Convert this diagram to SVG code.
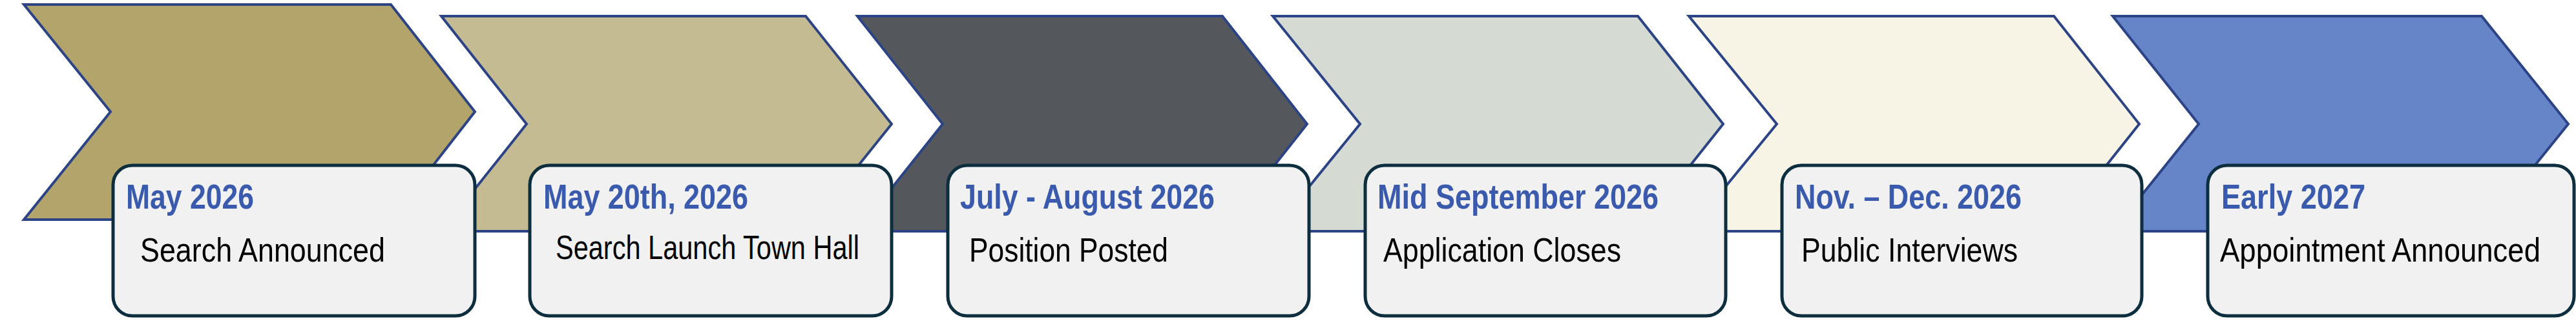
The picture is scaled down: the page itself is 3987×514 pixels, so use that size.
<svg xmlns="http://www.w3.org/2000/svg" width="3987" height="514" viewBox="0 0 3987 514">
<style>
.chev{stroke:#2c4485;stroke-width:4;stroke-linejoin:miter}
.chevin{fill:none;stroke:#7f9ad6;stroke-width:1.5}
.box{fill:#f1f1f1;stroke:#0d2e3e;stroke-width:5}
.t{font-family:"Liberation Sans",Arial,sans-serif;font-weight:bold;font-size:54px;fill:#3a5aad}
.b{font-family:"Liberation Sans",Arial,sans-serif;font-size:52px;fill:#000}
</style>
<rect width="3987" height="514" fill="#fff"/>
<g id="chevrons">
<polygon id="chev1" class="chev" fill="#b3a46c" points="37,7 605,7 735,173 605,340 37,340 171,173"/>
<polygon class="chev" fill="#c5bb93" points="683,25 1247,25 1380,192 1247,358 683,358 815,192"/>
<polygon class="chev" fill="#54585c" points="1327,25 1892,25 2023,192 1892,358 1327,358 1459,192"/>
<polygon class="chev" fill="#d5dbd3" points="1970,25 2535,25 2667,192 2535,358 1970,358 2105,192"/>
<polygon class="chev" fill="#f7f4e6" points="2614,25 3179,25 3311,192 3179,358 2614,358 2750,192"/>
<polygon class="chev" fill="#6685c9" points="3270,25 3841,25 3975,192 3841,358 3270,358 3403,192"/>
</g>
<g id="n1"><rect class="box" x="175" y="256" width="560" height="233" rx="30"/>
<text class="t" x="195" y="323" textLength="198" lengthAdjust="spacingAndGlyphs">May 2026</text>
<text class="b" x="217" y="405" textLength="379" lengthAdjust="spacingAndGlyphs">Search Announced</text></g>
<g id="n2"><rect class="box" x="820" y="256" width="560" height="233" rx="30"/>
<text class="t" x="841" y="323" textLength="317" lengthAdjust="spacingAndGlyphs">May 20th, 2026</text>
<text class="b" x="860" y="401" font-size="48" textLength="470" lengthAdjust="spacingAndGlyphs">Search Launch Town Hall</text></g>
<g id="n3"><rect class="box" x="1467" y="256" width="559" height="233" rx="30"/>
<text class="t" x="1486" y="323" textLength="394" lengthAdjust="spacingAndGlyphs">July - August 2026</text>
<text class="b" x="1500" y="405" textLength="308" lengthAdjust="spacingAndGlyphs">Position Posted</text></g>
<g id="n4"><rect class="box" x="2113" y="256" width="558" height="233" rx="30"/>
<text class="t" x="2132" y="323" textLength="435" lengthAdjust="spacingAndGlyphs">Mid September 2026</text>
<text class="b" x="2141" y="405" textLength="368" lengthAdjust="spacingAndGlyphs">Application Closes</text></g>
<g id="n5"><rect class="box" x="2758" y="256" width="557" height="233" rx="30"/>
<text class="t" x="2778" y="323" textLength="351" lengthAdjust="spacingAndGlyphs">Nov. – Dec. 2026</text>
<text class="b" x="2788" y="405" textLength="335" lengthAdjust="spacingAndGlyphs">Public Interviews</text></g>
<g id="n6"><rect class="box" x="3417" y="256" width="567" height="233" rx="30"/>
<text class="t" x="3438" y="323" textLength="223" lengthAdjust="spacingAndGlyphs">Early 2027</text>
<text class="b" x="3436" y="405" textLength="496" lengthAdjust="spacingAndGlyphs">Appointment Announced</text></g>
<g id="connectors"/>
</svg>
